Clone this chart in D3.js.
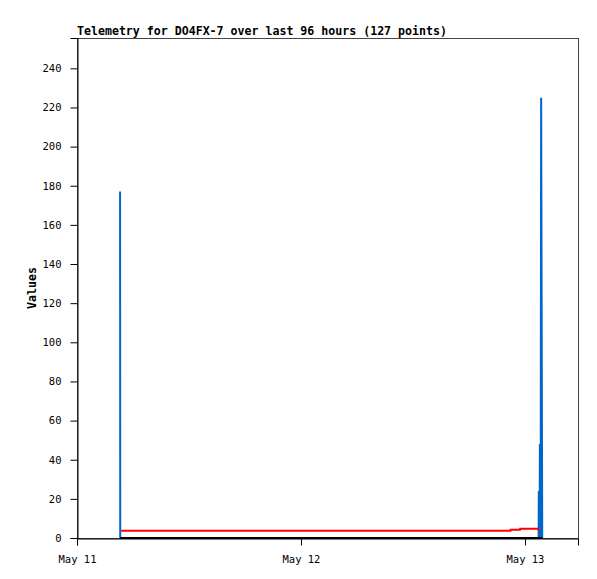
<!DOCTYPE html>
<html>
<head>
<meta charset="utf-8">
<script src="https://cdn.jsdelivr.net/npm/d3@7"></script>
<style>
  html, body { margin: 0; padding: 0; background: #fff; }
  svg text { font-family: "DejaVu Sans Mono", "Liberation Mono", monospace; }
</style>
</head>
<body>
<svg id="chart" width="597" height="579"></svg>
<script>
// ---- data ----
const titleText = "Telemetry for DO4FX-7 over last 96 hours (127 points)";
const yAxisLabel = "Values";
const xDomain = ["2024-05-11T00:00", "2024-05-13T05:41"];
const yDomain = [0, 255.5];
const xTickDates = ["2024-05-11T00:00", "2024-05-12T00:00", "2024-05-13T00:00"];
const xTickLabels = ["May 11", "May 12", "May 13"];
const yTickValues = [0, 20, 40, 60, 80, 100, 120, 140, 160, 180, 200, 220, 240];

// blue series (spikes)
const blueTimes  = ["2024-05-11T04:37", "2024-05-11T04:38", "2024-05-13T01:28", "2024-05-13T01:29", "2024-05-13T01:34", "2024-05-13T01:36", "2024-05-13T01:41", "2024-05-13T01:44", "2024-05-13T01:51"];
const blueValues = [177, 0, 0, 24, 0, 48, 0, 225, 0];

// red series
const redTimes  = ["2024-05-11T04:44", "2024-05-12T22:27", "2024-05-12T22:28", "2024-05-12T23:28", "2024-05-12T23:29", "2024-05-13T01:25", "2024-05-13T01:26"];
const redValues = [3.7, 3.7, 4.2, 4.2, 4.7, 4.7, 3.9];

// black series
const blackTimes  = ["2024-05-11T04:37", "2024-05-13T01:51"];
const blackValues = [0, 0];

// ---- layout ----
const margin = {left: 77, top: 38, right: 597 - 578, bottom: 579 - 538};
const W = 597, H = 579;
const svg = d3.select("#chart");
const parse = d3.utcParse("%Y-%m-%dT%H:%M");

const x = d3.scaleUtc()
  .domain(xDomain.map(parse))
  .range([margin.left, W - margin.right]);
const y = d3.scaleLinear()
  .domain(yDomain)
  .range([H - margin.bottom, margin.top]);

// frame (top & right in gray)
svg.append("rect")
  .attr("x", margin.left + 0.5).attr("y", margin.top + 0.5)
  .attr("width", W - margin.right - margin.left)
  .attr("height", H - margin.bottom - margin.top)
  .attr("fill", "#fff").attr("stroke", "#444").attr("stroke-width", 1);

// lines
const line = d3.line().x(d => x(d[0])).y(d => y(d[1]));
function series(times, values) { return times.map((t, i) => [parse(t), values[i]]); }

svg.append("path").datum(series(blueTimes, blueValues))
  .attr("d", line).attr("fill", "none").attr("stroke", "#0066cc").attr("stroke-width", 2);
svg.append("path").datum(series(redTimes, redValues))
  .attr("d", line).attr("fill", "none").attr("stroke", "#ff0000").attr("stroke-width", 2);
svg.append("path").datum(series(blackTimes, blackValues))
  .attr("d", line).attr("fill", "none").attr("stroke", "#000").attr("stroke-width", 2);

// axes
const yAxis = d3.axisLeft(y).tickValues(yTickValues).tickSize(7).tickPadding(9);
const gy = svg.append("g").attr("transform", `translate(${margin.left + 0.5},0)`).call(yAxis);
gy.select(".domain").attr("stroke", "#000");
gy.selectAll("text").attr("font-size", "10.5px").attr("fill", "#000");

const xAxis = d3.axisBottom(x)
  .tickValues(xTickDates.map(parse))
  .tickFormat((d, i) => xTickLabels[i])
  .tickSize(7).tickPadding(10);
const gx = svg.append("g").attr("transform", `translate(0,${H - margin.bottom + 0.5})`).call(xAxis);
gx.select(".domain").attr("stroke", "#000");
gx.selectAll("text").attr("font-size", "10.5px").attr("fill", "#000");

// title
svg.append("text")
  .attr("x", margin.left).attr("y", 35)
  .attr("font-size", "11.6px").attr("font-weight", "bold")
  .text(titleText);

// y label
svg.append("text")
  .attr("transform", `translate(36,${(margin.top + H - margin.bottom) / 2}) rotate(-90)`)
  .attr("text-anchor", "middle")
  .attr("font-size", "11.6px").attr("font-weight", "bold")
  .text(yAxisLabel);
</script>
</body>
</html>
